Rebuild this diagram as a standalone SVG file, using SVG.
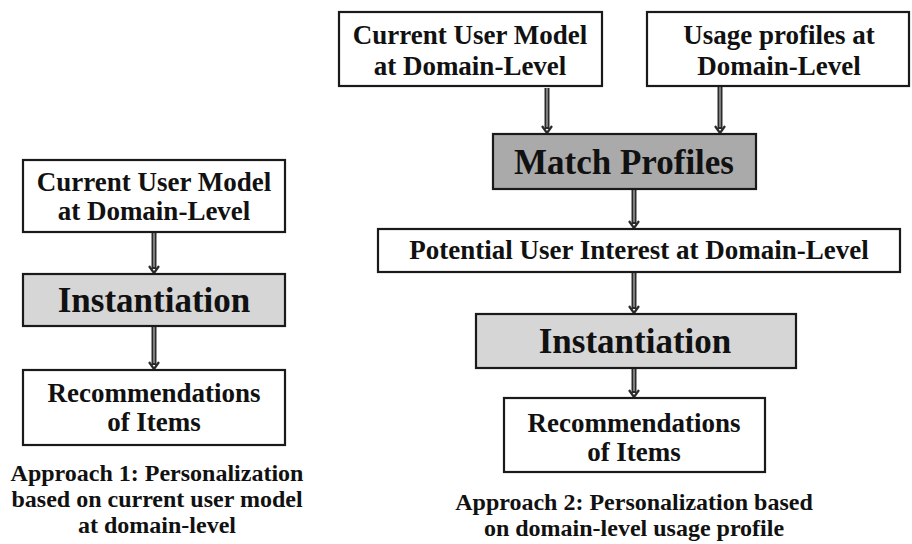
<svg xmlns="http://www.w3.org/2000/svg" width="912" height="544" viewBox="0 0 912 544">
<style>
.box{fill:#fff;stroke:#1a1a1a;stroke-width:2.2}
.inst{fill:#d6d6d6;stroke:#1a1a1a;stroke-width:2.2}
.match{fill:#aaaaaa;stroke:#1a1a1a;stroke-width:2.2}
.t{font-family:"Liberation Serif","Times New Roman",serif;font-weight:bold;font-size:27px;fill:#111;text-anchor:middle}
.big{font-size:35px}
.cap{font-size:24px}
.shaft{stroke:#2a2a2a;stroke-width:5;fill:none}
.inner{stroke:#9a9a9a;stroke-width:1.5;fill:none}
.head{fill:none;stroke:#2a2a2a;stroke-width:2.2}
</style>

<g id="connectors">
<line class="shaft" x1="154" y1="233" x2="154" y2="269"/>
<line class="inner" x1="154" y1="233" x2="154" y2="267"/>
<path class="head" d="M149,266 L154,273 L159,266"/>

<line class="shaft" x1="154" y1="327" x2="154" y2="365"/>
<line class="inner" x1="154" y1="327" x2="154" y2="363"/>
<path class="head" d="M149,362 L154,369 L159,362"/>

<line class="shaft" x1="547" y1="88" x2="547" y2="129"/>
<line class="inner" x1="547" y1="88" x2="547" y2="127"/>
<path class="head" d="M542,126 L547,133 L552,126"/>

<line class="shaft" x1="720" y1="87" x2="720" y2="129"/>
<line class="inner" x1="720" y1="87" x2="720" y2="127"/>
<path class="head" d="M715,126 L720,133 L725,126"/>

<line class="shaft" x1="634" y1="190" x2="634" y2="224"/>
<line class="inner" x1="634" y1="190" x2="634" y2="222"/>
<path class="head" d="M629,221 L634,228 L639,221"/>

<line class="shaft" x1="634" y1="272" x2="634" y2="309"/>
<line class="inner" x1="634" y1="272" x2="634" y2="307"/>
<path class="head" d="M629,306 L634,313 L639,306"/>

<line class="shaft" x1="634" y1="369" x2="634" y2="393"/>
<line class="inner" x1="634" y1="369" x2="634" y2="391"/>
<path class="head" d="M629,390 L634,397 L639,390"/>
</g>

<g id="l-current">
<rect class="box" x="23" y="160" width="262" height="72"/>
<text class="t" x="154" y="191">Current User Model</text>
<text class="t" x="154" y="220">at Domain-Level</text>
</g>
<g id="l-inst">
<rect class="inst" x="23" y="274" width="262" height="52"/>
<text class="t big" x="154" y="312">Instantiation</text>
</g>
<g id="l-recs">
<rect class="box" x="23" y="370" width="262" height="75"/>
<text class="t" x="154" y="402">Recommendations</text>
<text class="t" x="154" y="431">of Items</text>
</g>
<g id="l-caption">
<text class="t cap" x="157" y="481">Approach 1: Personalization</text>
<text class="t cap" x="157" y="507">based on current user model</text>
<text class="t cap" x="157" y="533">at domain-level</text>
</g>

<g id="r-current">
<rect class="box" x="339" y="12" width="263" height="74"/>
<text class="t" x="470" y="44">Current User Model</text>
<text class="t" x="470" y="75">at Domain-Level</text>
</g>
<g id="r-usage">
<rect class="box" x="647" y="12" width="262" height="74"/>
<text class="t" x="779" y="44">Usage profiles at</text>
<text class="t" x="779" y="75">Domain-Level</text>
</g>
<g id="r-match">
<rect class="match" x="493" y="134" width="263" height="55"/>
<text class="t big" x="624" y="174">Match Profiles</text>
</g>
<g id="r-potential">
<rect class="box" x="378" y="229" width="522" height="43"/>
<text class="t" x="639" y="259">Potential User Interest at Domain-Level</text>
</g>
<g id="r-inst">
<rect class="inst" x="476" y="314" width="320" height="54"/>
<text class="t big" x="635" y="353">Instantiation</text>
</g>
<g id="r-recs">
<rect class="box" x="504" y="398" width="261" height="74"/>
<text class="t" x="634" y="432">Recommendations</text>
<text class="t" x="634" y="461">of Items</text>
</g>
<g id="r-caption">
<text class="t cap" x="634" y="510">Approach 2: Personalization based</text>
<text class="t cap" x="634" y="536">on domain-level usage profile</text>
</g>
</svg>
